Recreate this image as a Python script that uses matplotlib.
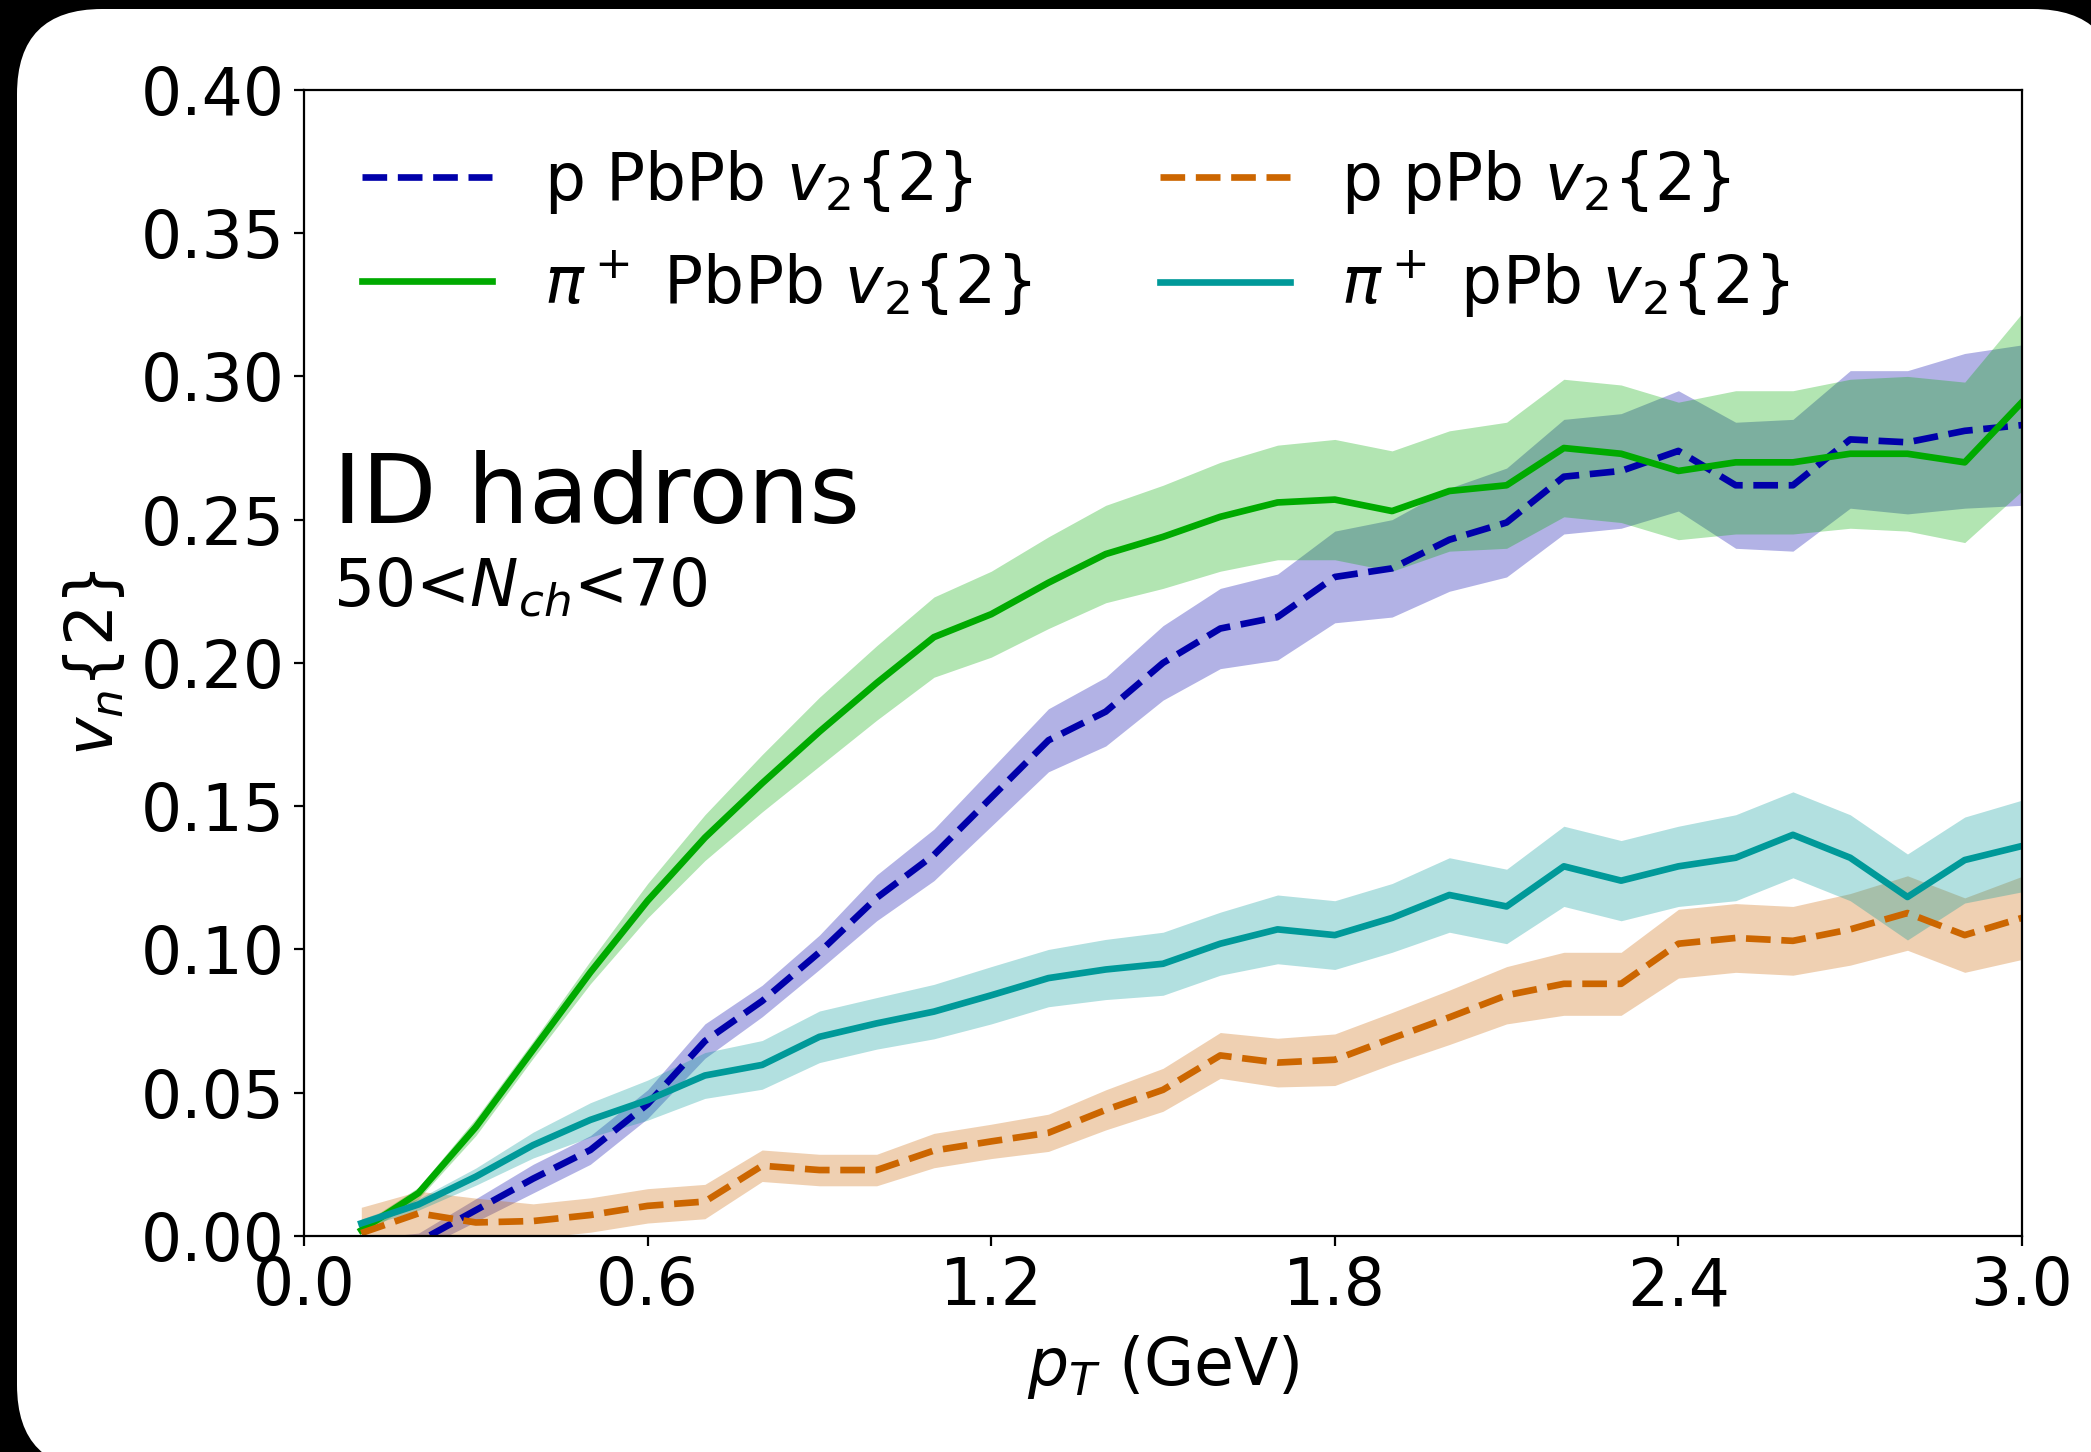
import numpy as np
import matplotlib
matplotlib.use("Agg")
import matplotlib.pyplot as plt
from matplotlib.patches import FancyBboxPatch
from matplotlib.transforms import IdentityTransform

# transverse momentum bins (GeV)
pt = [0.1, 0.2, 0.3, 0.4, 0.5, 0.6, 0.7, 0.8, 0.9, 1.0,
      1.1, 1.2, 1.3, 1.4, 1.5, 1.6, 1.7, 1.8, 1.9, 2.0,
      2.1, 2.2, 2.3, 2.4, 2.5, 2.6, 2.7, 2.8, 2.9, 3.0]

# proton, PbPb
p_pbpb = [-0.004, -0.002, 0.009, 0.020, 0.030, 0.046, 0.068, 0.082, 0.099, 0.118,
          0.133, 0.153, 0.173, 0.183, 0.200, 0.212, 0.216, 0.230, 0.233, 0.243,
          0.249, 0.265, 0.267, 0.274, 0.262, 0.262, 0.278, 0.277, 0.281, 0.283]
p_pbpb_err = [0.003, 0.003, 0.004, 0.005, 0.005, 0.005, 0.006, 0.0055, 0.006, 0.008,
              0.009, 0.010, 0.011, 0.012, 0.013, 0.014, 0.015, 0.016, 0.017, 0.018,
              0.019, 0.020, 0.020, 0.021, 0.022, 0.023, 0.024, 0.025, 0.027, 0.028]

# pion, PbPb
pi_pbpb = [0.002, 0.015, 0.038, 0.065, 0.092, 0.117, 0.139, 0.158, 0.176, 0.193,
           0.209, 0.217, 0.228, 0.238, 0.244, 0.251, 0.256, 0.257, 0.253, 0.260,
           0.262, 0.275, 0.273, 0.267, 0.270, 0.270, 0.273, 0.273, 0.270, 0.291]
pi_pbpb_err = [0.002, 0.002, 0.003, 0.003, 0.004, 0.006, 0.008, 0.010, 0.012, 0.013,
               0.014, 0.015, 0.016, 0.017, 0.018, 0.019, 0.020, 0.021, 0.021, 0.021,
               0.022, 0.024, 0.024, 0.024, 0.025, 0.025, 0.026, 0.027, 0.028, 0.031]

# proton, pPb
p_ppb = [0.001, 0.0079, 0.0047, 0.0052, 0.0073, 0.0105, 0.012, 0.0245, 0.023, 0.023,
         0.0298, 0.033, 0.036, 0.044, 0.051, 0.063, 0.0605, 0.0615, 0.069, 0.0763,
         0.084, 0.088, 0.088, 0.102, 0.104, 0.103, 0.107, 0.1127, 0.105, 0.111]
p_ppb_err = [0.009, 0.0077, 0.0085, 0.006, 0.006, 0.006, 0.006, 0.0055, 0.0055, 0.0055,
             0.006, 0.006, 0.0065, 0.007, 0.0075, 0.008, 0.0085, 0.009, 0.009, 0.0095,
             0.010, 0.011, 0.011, 0.012, 0.012, 0.012, 0.0125, 0.013, 0.013, 0.0145]

# pion, pPb
pi_ppb = [0.0044, 0.011, 0.0207, 0.0317, 0.0405, 0.0474, 0.056, 0.0597, 0.0695, 0.0742,
          0.0783, 0.084, 0.090, 0.093, 0.095, 0.102, 0.107, 0.105, 0.111, 0.119,
          0.115, 0.129, 0.124, 0.129, 0.132, 0.140, 0.132, 0.1183, 0.1312, 0.1361]
pi_ppb_err = [0.0015, 0.002, 0.003, 0.0045, 0.006, 0.007, 0.008, 0.0085, 0.009, 0.009,
              0.0095, 0.010, 0.010, 0.0105, 0.011, 0.011, 0.012, 0.012, 0.012, 0.013,
              0.013, 0.014, 0.014, 0.014, 0.015, 0.015, 0.015, 0.015, 0.015, 0.016]

labels = [r"p PbPb $v_2\{2\}$", r"$\pi^+$ PbPb $v_2\{2\}$",
          r"p pPb $v_2\{2\}$", r"$\pi^+$ pPb $v_2\{2\}$"]
x_ticks = [0.0, 0.6, 1.2, 1.8, 2.4, 3.0]
y_ticks = [0.00, 0.05, 0.10, 0.15, 0.20, 0.25, 0.30, 0.35, 0.40]

DPI = 200
FS = 23.3
fig = plt.figure(figsize=(2091 / DPI, 1452 / DPI), dpi=DPI, facecolor="black")

# white rounded card behind the plot (pixel coordinates, origin bottom-left)
card = FancyBboxPatch((17, -18), 2101, 1461,
                      boxstyle="round,pad=0,rounding_size=85",
                      transform=IdentityTransform(), facecolor="white",
                      edgecolor="none", zorder=-10)
fig.patches.append(card)

ax = fig.add_axes([0.1454, 0.1488, 0.8216, 0.7893])
ax.set_zorder(1)
ax.set_facecolor("white")

series = [
    (p_pbpb, p_pbpb_err, "#0000aa", "--"),
    (pi_pbpb, pi_pbpb_err, "#00aa00", "-"),
    (p_ppb, p_ppb_err, "#cc6600", "--"),
    (pi_ppb, pi_ppb_err, "#009999", "-"),
]
x = np.array(pt)
for (vals, errs, col, ls), lab in zip(series, labels):
    v = np.array(vals)
    e = np.array(errs)
    ax.fill_between(x, v - e, v + e, color=col, alpha=0.3, linewidth=0)
    ax.plot(x, v, color=col, linestyle=ls, linewidth=2.4, label=lab)

ax.set_xlim(0, 3.0)
ax.set_ylim(0, 0.40)
ax.set_xticks(x_ticks)
ax.set_xticklabels([f"{t:.1f}" for t in x_ticks])
ax.set_yticks(y_ticks)
ax.set_yticklabels([f"{t:.2f}" for t in y_ticks])
ax.tick_params(labelsize=FS)

ax.set_xlabel(r"$p_T$ (GeV)", fontsize=FS, labelpad=5)
ax.set_ylabel(r"$v_n\{2\}$", fontsize=FS, labelpad=5)

ax.text(0.017, 0.622, "ID hadrons", transform=ax.transAxes, fontsize=35)
ax.text(0.017, 0.549, r"50<$N_{ch}$<70", transform=ax.transAxes, fontsize=FS)

ax.legend(loc="upper left", ncol=2, frameon=False, fontsize=FS)

fig.savefig("out.png", dpi=DPI, facecolor="black")
